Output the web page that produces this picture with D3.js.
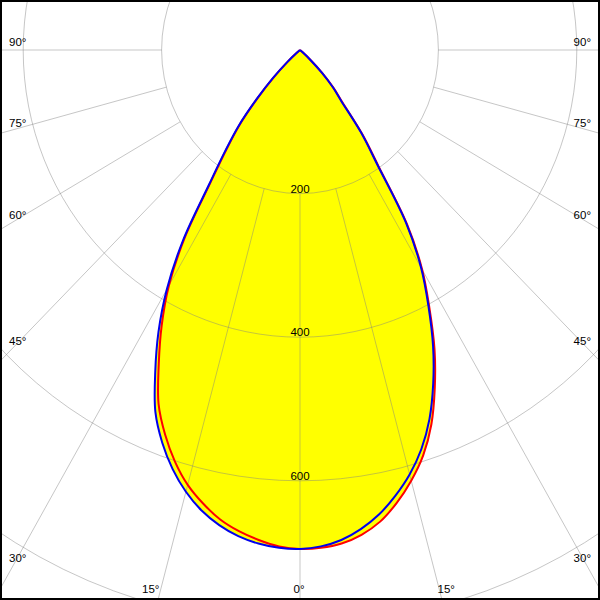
<!DOCTYPE html>
<html>
<head>
<meta charset="utf-8">
<script src="https://cdn.jsdelivr.net/npm/d3@7"></script>
<style>
  html, body { margin: 0; padding: 0; background: #fff; }
  svg { display: block; }
  text { font-family: "Liberation Sans", Arial, sans-serif; font-size: 11.5px; fill: #000; }
</style>
</head>
<body>
<script>
// ---- data ----
const angles = [0, 2.5, 5, 7.5, 10, 12.5, 15, 17.5, 20, 22.5, 25, 27.5, 30, 32.5, 35, 37.5, 40, 42.5, 45, 47.5, 50, 52.5, 55, 60, 65, 70, 75, 80, 85, 90];
const blueLeft  = [695, 694, 690, 683, 672, 657, 637, 612, 582, 546, 495, 443, 385, 315, 230, 178, 138, 92, 55, 25, 6, 0, 0, 0, 0, 0, 0, 0, 0, 0];
const blueRight = [695, 692, 685, 673, 657, 636, 612, 583, 547, 503, 455, 402, 350, 285, 195, 145, 93, 70, 45, 20, 5, 0, 0, 0, 0, 0, 0, 0, 0, 0];
const redLeft   = [695, 692, 685, 676, 664, 647, 627, 601, 570, 534, 483, 433, 379, 310, 226, 175, 135, 90, 53, 24, 6, 0, 0, 0, 0, 0, 0, 0, 0, 0];
const redRight  = [695, 694, 690, 681, 667, 646, 621, 592, 555, 509, 460, 405, 353, 288, 198, 148, 96, 72, 46, 21, 5, 0, 0, 0, 0, 0, 0, 0, 0, 0];
const ringValues = [200, 400, 600, 800];
const ringLabels = ["200", "400", "600"];
const spokeAngles = [0, 15, 30, 45, 60, 75, 90];
const angleLabels = ["0°", "15°", "30°", "45°", "60°", "75°", "90°"];

// ---- layout ----
const W = 600, H = 600;
const cx = 300, cy = 50;
const sx = d3.scaleLinear().domain([0, 800]).range([0, 553.6]);
const sy = d3.scaleLinear().domain([0, 800]).range([0, 574.4]);
const rad = d => d * Math.PI / 180;

const svg = d3.select("body").append("svg").attr("width", W).attr("height", H);
svg.append("defs").append("clipPath").attr("id", "clip")
  .append("rect").attr("x", 0).attr("y", 0).attr("width", W).attr("height", H);
const g = svg.append("g").attr("clip-path", "url(#clip)");

function halfPoints(values, side) {
  return angles.map((a, i) => [cx + side * sx(values[i]) * Math.sin(rad(a)), cy + sy(values[i]) * Math.cos(rad(a))]);
}
function fullCurve(left, right) {
  const L = halfPoints(left, -1).reverse();   // 90 -> 0 on left
  const R = halfPoints(right, 1).slice(1);    // 0 -> 90 on right
  return L.concat(R);
}
const line = d3.line().curve(d3.curveCatmullRom.alpha(0.5));

const redPts = fullCurve(redLeft, redRight);
const bluePts = fullCurve(blueLeft, blueRight);

// yellow fill (union of both curves)
g.append("path").attr("d", line(redPts) + "Z").attr("fill", "#ffff00").attr("stroke", "none");
g.append("path").attr("d", line(bluePts) + "Z").attr("fill", "#ffff00").attr("stroke", "none");

// grid
const grid = g.append("g").attr("stroke", "#808080").attr("stroke-opacity", 0.45).attr("fill", "none").attr("stroke-width", 1);
grid.selectAll("ellipse").data(ringValues).join("ellipse")
  .attr("cx", cx).attr("cy", cy)
  .attr("rx", d => sx(d)).attr("ry", d => sy(d));
const spokes = [];
spokeAngles.forEach(a => {
  if (a === 0) spokes.push({a, side: 1});
  else { spokes.push({a, side: -1}); spokes.push({a, side: 1}); }
});
const r0 = ringValues[0], r1 = 3000;
grid.selectAll("line").data(spokes).join("line")
  .attr("x1", d => cx + d.side * sx(r0) * Math.sin(rad(d.a)))
  .attr("y1", d => cy + sy(r0) * Math.cos(rad(d.a)))
  .attr("x2", d => cx + d.side * sx(r1) * Math.sin(rad(d.a)))
  .attr("y2", d => cy + sy(r1) * Math.cos(rad(d.a)));

// curves
g.append("path").attr("d", line(redPts)).attr("fill", "none").attr("stroke", "#ff0000").attr("stroke-width", 2);
g.append("path").attr("d", line(bluePts)).attr("fill", "none").attr("stroke", "#0000ee").attr("stroke-width", 2);

// radial labels
svg.selectAll("text.ring").data(ringLabels).join("text").attr("class", "ring")
  .attr("x", cx).attr("y", (d, i) => cy + sy(ringValues[i]) - 1)
  .attr("text-anchor", "middle").text(d => d);

// angle labels
function spokeYAtX(a, xOff) {
  const t = xOff / (sx(1) * Math.sin(rad(a)));
  return cy + t * sy(1) * Math.cos(rad(a));
}
const labG = svg.append("g");
spokeAngles.forEach((a, i) => {
  const txt = angleLabels[i];
  if (a === 0) {
    labG.append("text").attr("x", cx - 1).attr("y", H - 7).attr("text-anchor", "middle").text(txt);
  } else if (a === 15) {
    const dx = (H - 2 - cy) / sy(1) * Math.tan(rad(a)) * sx(1);
    labG.append("text").attr("x", cx - dx + 1).attr("y", H - 7).attr("text-anchor", "end").text(txt);
    labG.append("text").attr("x", cx + dx - 4).attr("y", H - 7).attr("text-anchor", "start").text(txt);
  } else {
    const off = (90 - a) / 60 * 9 - 4;
    const y = spokeYAtX(a, cx - 18) + off;
    labG.append("text").attr("x", 9).attr("y", y).attr("text-anchor", "start").text(txt);
    labG.append("text").attr("x", W - 9).attr("y", y).attr("text-anchor", "end").text(txt);
  }
});

// frame
svg.append("rect").attr("x", 1).attr("y", 1).attr("width", W - 2).attr("height", H - 2)
  .attr("fill", "none").attr("stroke", "#000").attr("stroke-width", 2);
</script>
</body>
</html>
